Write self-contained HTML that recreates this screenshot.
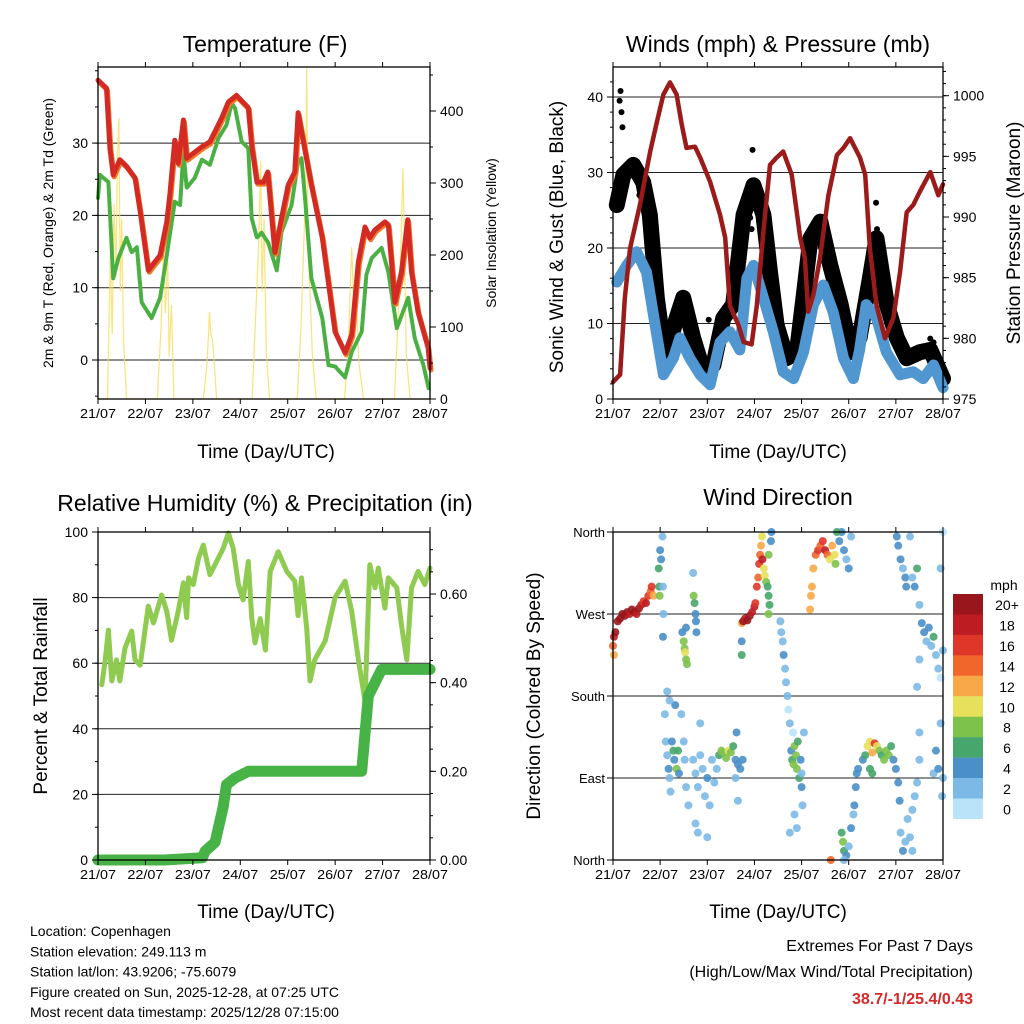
<!DOCTYPE html>
<html><head><meta charset="utf-8"><style>
html,body{margin:0;padding:0;background:#fff;}
svg{display:block;font-family:"Liberation Sans",Arial,sans-serif;}
</style></head><body>
<svg id="chart" width="1024" height="1024" viewBox="0 0 1024 1024" xmlns="http://www.w3.org/2000/svg">
<g id="layer"></g>
</svg>
<script>
// ---------- DATA ----------
const dayLabels = ["21/07","22/07","23/07","24/07","25/07","26/07","27/07","28/07"];
const tempT = [0,0.18,0.25,0.32,0.46,0.60,0.78,0.89,1.06,1.31,1.45,1.52,1.62,1.69,1.80,1.87,2.19,2.36,2.61,2.75,2.92,3.17,3.24,3.35,3.49,3.58,3.66,3.73,3.87,4.01,4.15,4.22,4.33,4.50,4.73,5.00,5.21,5.35,5.49,5.63,5.73,5.84,6.05,6.12,6.26,6.40,6.53,6.61,6.75,6.96,7.0];
const tempV = [38.7,37.6,29.3,25.6,27.7,26.8,25.2,20.5,12.4,14.5,19.1,23.2,30.4,27.2,33.2,27.9,29.5,30.2,33.5,35.7,36.6,34.9,29.7,24.6,24.6,26,20,14.9,19.6,24.2,26,34.2,30.2,24.2,16.9,3.9,1,3.5,13.6,18.4,16.9,18,19.1,18.7,8,12.2,19.4,12.2,6.6,1.7,-1.1];
const dewT = [0,0.04,0.22,0.25,0.32,0.43,0.60,0.71,0.82,0.92,1.13,1.31,1.45,1.62,1.73,1.80,1.87,2.04,2.19,2.36,2.54,2.71,2.82,2.89,3.03,3.17,3.24,3.35,3.45,3.59,3.77,3.87,4.08,4.22,4.29,4.36,4.50,4.73,4.86,5.00,5.21,5.35,5.56,5.66,5.77,5.98,6.12,6.30,6.54,6.68,6.86,6.97];
const dewV = [22.4,25.6,24.6,20.5,11.3,14.1,16.9,14.9,15.6,8,5.8,8.6,14.5,21.9,21.4,28.8,23.8,25.2,27.7,27,30.7,32.5,35.5,34.8,30.2,29.3,19.6,16.9,17.6,16.2,12.4,17.7,21.4,27.4,27.9,22.8,11.3,5.8,-0.7,-0.9,-2.4,1.1,3.9,11.8,14.1,15.5,12.2,4.4,8.6,3,-0.7,-3.9];
const solarT = [0,0.2,0.26,0.3,0.34,0.38,0.41,0.44,0.47,0.5,0.54,0.6,1.25,1.33,1.38,1.42,1.47,1.5,1.55,1.6,2.22,2.3,2.35,2.38,2.42,2.5,3.25,3.32,3.38,3.43,3.46,3.5,3.55,3.62,4.2,4.28,4.33,4.38,4.4,4.43,4.47,4.52,4.6,5.2,5.28,5.35,5.4,5.45,5.5,5.6,6.25,6.32,6.38,6.43,6.47,6.5,6.58,7];
const solarV = [0,0,200,90,270,170,340,390,150,250,80,0,0,100,210,120,200,60,130,0,0,50,120,90,80,0,0,110,200,330,150,250,60,0,0,100,200,300,460,200,150,60,0,0,80,210,120,140,50,0,0,100,200,320,180,60,0,0];

const windT = [0.08,0.29,0.50,0.71,0.86,1.07,1.28,1.42,1.63,1.85,2.06,2.27,2.48,2.69,2.84,2.98,3.19,3.40,3.61,3.83,4.04,4.25,4.46,4.67,4.89,5.10,5.23,5.37,5.59,5.80,6.09,6.37,6.58,6.80,7.0];
const windV = [15.5,17.7,19.5,16.8,11.1,3.2,5.4,8.1,5.4,3.2,1.9,7.5,8.9,6.5,16,17.7,13.4,8.9,3.6,2.7,6.2,12.5,15.1,11.5,5.4,2.7,6.5,12.5,10.7,6.2,3.2,3.6,2.7,4.5,1.5];
const gustT = [0.08,0.22,0.43,0.64,0.78,0.93,1.10,1.35,1.49,1.70,1.92,2.13,2.34,2.55,2.77,2.98,3.19,3.33,3.47,3.68,3.90,4.04,4.19,4.40,4.61,4.83,5.04,5.23,5.45,5.59,5.81,6.02,6.23,6.51,6.73,7.0];
const gustV = [25.7,29.7,31,28.7,24.4,13.4,5.4,10.7,13.4,8.1,3.6,4.5,10.7,12.5,24.4,28.3,24.4,16.8,9.8,5.4,6.2,13.4,21.3,23.5,17.7,12.5,6.2,8.1,16,21.3,12.5,8.1,5.4,6.2,6.5,2.7];
const gustOutT = [0.14,0.16,0.18,0.20,0.56,2.03,2.96,2.91,2.94,5.58,5.60,6.73,6.80];
const gustOutV = [39.5,40.8,38,36,27,10.5,33,24,22.5,26,22.5,8,7.5];
const presT = [0,0.15,0.25,0.36,0.57,0.79,0.93,1.07,1.21,1.35,1.46,1.56,1.74,1.85,2.06,2.27,2.38,2.48,2.66,2.77,2.94,3.05,3.19,3.33,3.47,3.61,3.79,3.97,4.07,4.14,4.25,4.39,4.57,4.75,4.89,5.03,5.24,5.35,5.45,5.59,5.77,5.95,6.09,6.23,6.37,6.51,6.73,6.90,7.0];
const presV = [976.4,977,983.3,987.4,991,995.4,997.8,1000.1,1001.1,1000.1,997.6,995.7,995.8,994.9,992.9,990.2,988.3,982.7,981.1,979.7,979.5,982.7,988.8,994.3,994.9,995.4,993.5,988.3,986.6,982.2,983.6,986.6,991.8,995.1,995.7,996.5,994.9,993.5,987.4,982.7,980,981.7,985.5,990.4,991,992.1,993.7,991.8,992.7];

const rhT = [0.08,0.15,0.22,0.29,0.39,0.46,0.57,0.71,0.78,0.89,1.06,1.17,1.34,1.45,1.55,1.69,1.80,1.87,1.91,2.01,2.12,2.22,2.36,2.50,2.64,2.75,2.85,2.96,3.06,3.17,3.24,3.31,3.42,3.53,3.63,3.80,3.98,4.15,4.22,4.29,4.40,4.47,4.57,4.79,5.00,5.21,5.35,5.49,5.63,5.73,5.84,5.91,6.05,6.12,6.30,6.40,6.51,6.61,6.75,6.89,7.0];
const rhV = [53.4,60.7,70.1,54.6,61,54.6,64.6,69.8,61,59.4,77.4,72.3,80.8,75.8,67,75.8,84.5,73.9,86,84,92,96,87,91,95,99.7,95,84,79.3,91,73.9,66.2,73.6,64,88,94,88,85,74.5,86,70.7,54.6,61,66.8,80,85,75.8,61,48.4,90,83,89,76.8,86,83,71.6,61,83,88,84,89];
const rainT = [0,1.4,2.2,2.26,2.47,2.64,2.71,2.89,3.17,5.56,5.70,5.91,5.98,7.0];
const rainV = [0,0,0.005,0.02,0.04,0.12,0.17,0.185,0.20,0.20,0.37,0.415,0.43,0.43];

const dirT = [0.0,0.02,0.05,0.1,0.15,0.2,0.25,0.3,0.35,0.4,0.45,0.5,0.55,0.6,0.65,0.7,0.75,0.8,0.82,0.86,0.02,
 0.97,0.98,0.99,1.0,1.02,1.05,1.06,1.07,1.06,
 1.7,1.71,1.73,1.75,1.76,1.77,1.47,1.5,1.52,1.53,1.55,1.57,1.55,
 2.73,2.76,2.8,2.85,2.9,2.95,3.0,3.02,3.05,3.08,3.1,3.12,3.14,3.16,3.17,2.73,2.73,3.2,3.22,3.25,3.28,3.3,3.32,3.3,3.3,3.35,3.36,
 3.55,3.57,3.6,3.62,3.65,3.67,3.7,3.72,3.75,3.82,
 4.18,4.2,4.22,4.25,4.3,4.35,4.4,4.45,4.5,4.55,4.6,4.65,4.7,4.72,4.8,4.85,4.9,4.95,5.0,5.05,4.75,
 6.02,6.05,6.1,6.15,6.2,6.22,6.3,6.35,6.4,6.45,6.5,6.55,6.6,6.65,6.7,6.75,6.8,6.85,6.9,6.95,7.0,6.5,6.45,6.95,7.0,
 1.1,1.12,1.15,1.18,1.2,1.22,1.25,1.28,1.3,1.32,1.35,1.38,1.4,1.45,1.5,1.52,1.55,1.6,1.2,1.15,
 1.7,1.75,1.8,1.85,1.9,1.95,2.0,2.05,2.1,2.15,2.2,1.8,1.75,1.85,2.0,
 2.25,2.3,2.35,2.4,2.45,2.5,2.55,2.6,2.65,2.7,2.75,2.62,2.6,2.65,
 3.78,3.8,3.83,3.85,3.88,3.9,3.92,3.95,3.98,4.0,4.02,4.05,3.85,3.9,3.75,4.0,
 4.85,4.88,4.9,4.95,5.0,5.05,5.1,5.12,5.15,5.17,5.2,4.9,4.62,
 5.3,5.35,5.4,5.45,5.5,5.55,5.6,5.65,5.7,5.75,5.8,5.85,5.9,5.95,6.0,6.05,6.08,5.45,5.5,
 6.1,6.15,6.2,6.25,6.3,6.35,6.4,6.45,6.5,6.5,6.35,
 6.8,6.85,6.9,6.95,6.98,7.0];
const dirDeg = [235,245,250,262,265,270,268,272,270,275,272,270,276,280,284,282,290,295,300,290,225,
 320,300,290,340,330,355,300,270,245,
 315,290,282,270,262,250,250,240,232,228,220,215,255,
 260,262,265,263,268,272,278,282,300,310,325,335,345,355,330,240,225,320,312,305,300,290,280,270,335,350,360,
 262,250,240,225,210,195,180,165,150,140,
 275,290,300,320,335,340,345,350,340,335,330,345,335,325,350,360,340,330,320,355,360,
 355,345,330,320,310,300,355,310,300,320,280,260,250,240,255,235,245,225,210,200,230,220,190,320,360,
 160,130,115,100,90,75,130,120,110,170,100,120,95,160,130,110,80,60,175,185,
 110,95,80,115,100,70,90,60,110,85,100,30,40,150,25,
 115,120,118,112,120,118,125,110,105,100,110,140,90,65,
 120,110,105,125,115,100,130,90,110,80,60,140,50,35,30,95,
 30,20,10,5,15,35,50,60,80,95,100,0,0,
 110,115,125,130,118,128,125,120,115,110,120,115,125,110,100,85,65,100,95,
 30,10,20,45,25,55,70,85,110,140,10,
 95,120,100,150,70,90];
const dirSpd = [14,18,20,20,20,20,20,20,18,20,20,18,20,18,16,18,16,14,16,12,12,
 6,6,8,4,4,2,2,2,4,
 2,8,6,4,4,4,4,8,8,10,8,8,4,
 12,20,18,20,20,18,18,16,16,14,16,14,12,10,18,4,6,10,10,8,6,6,6,8,8,4,4,
 2,2,2,4,2,2,2,0,2,0,
 12,12,12,12,14,16,14,16,18,14,10,12,10,8,4,4,4,2,4,2,6,
 4,4,4,2,4,4,2,2,4,6,2,4,4,2,4,2,6,2,2,0,2,2,2,2,0,
 2,2,2,4,2,2,4,6,4,4,8,6,4,2,2,2,2,2,2,2,
 2,2,2,2,2,2,4,2,2,2,2,2,2,2,2,
 6,8,8,8,10,8,6,4,4,4,4,4,2,2,
 4,6,8,8,8,8,6,6,4,4,2,2,2,2,2,2,
 6,8,6,4,2,4,2,4,4,4,4,2,14,
 4,6,10,10,12,16,10,8,6,8,8,8,6,4,4,4,4,6,6,
 2,4,2,2,2,2,2,2,2,2,2,
 2,4,4,2,2,2];
const speedLabels = ["20+","18","16","14","12","10","8","6","4","2","0"];
const speedColors = ["#98161c","#bc1c22","#de3629","#f0662b","#f8a848","#e6e05a","#7dc24b","#47a66b","#4a8fc8","#7cb9e6","#b9e3f8"];

// ---------- HELPERS ----------
const NS="http://www.w3.org/2000/svg";
const root=document.getElementById('layer');
function mk(tag,attrs,parent){const e=document.createElementNS(NS,tag);for(const k in attrs)e.setAttribute(k,attrs[k]);(parent||root).appendChild(e);return e;}
function txt(s,x,y,size,anchor,parent,extra){const e=mk('text',Object.assign({x:x,y:y,'font-size':size,'text-anchor':anchor||'middle',fill:'#000'},extra||{}),parent);e.textContent=s;return e;}
function lin(a0,a1,p0,p1){return v=>p0+(v-a0)*(p1-p0)/(a1-a0);}
function poly(T,V,xs,ys,parent,style){const pts=T.map((t,i)=>xs(t).toFixed(1)+','+ys(V[i]).toFixed(1)).join(' ');return mk('polyline',Object.assign({points:pts,fill:'none','stroke-linejoin':'round','stroke-linecap':'round'},style),parent);}

function frame(g,L,T,R,B,xs){
  // x ticks
  dayLabels.forEach((d,i)=>{const x=xs(i);
    const tk=mk('line',{x1:x,x2:x,y1:B,y2:B+5,stroke:'#000','stroke-width':1},g);
    
    
    mk('line',{x1:x,x2:x,y1:T,y2:T-5,stroke:'#000','stroke-width':1},g);
    const lb=txt(d,x,B+19,13,'middle',g,{'textLength':36,'lengthAdjust':'spacingAndGlyphs'});
    
    
  });
}
function border(g,L,T,R,B){const r=mk('rect',{x:L,y:T,width:R-L,height:B-T,fill:'none',stroke:'#000','stroke-width':1.3},g);}
function yTicks(g,ys,vals,fmt,side,X,minorVals){
  const dir=side==='left'?-1:1;
  (minorVals||[]).forEach(v=>mk('line',{x1:X,x2:X+dir*3,y1:ys(v),y2:ys(v),stroke:'#000','stroke-width':1},g));
  vals.forEach(v=>{const y=ys(v);mk('line',{x1:X,x2:X+dir*6,y1:y,y2:y,stroke:'#000','stroke-width':1},g);
    const lb=txt(fmt(v),X+dir*10,y+5,14,side==='left'?'end':'start',g);
    
    });
}
function grid(g,ys,vals,L,R){vals.forEach(v=>mk('line',{x1:L,x2:R,y1:ys(v),y2:ys(v),stroke:'#222','stroke-width':1},g));}
function range(a,b,s){const r=[];for(let v=a;v<=b+1e-9;v+=s)r.push(+v.toFixed(4));return r;}

// ---------- PANEL 1: TEMPERATURE ----------
(function(){
  const L=98,T=67,R=430,B=399;
  const g=mk('g',{});
  const xs=lin(0,7,L,R), ys=lin(0,30,360,143.1), ysR=lin(0,400,399,111);
  grid(g,ys,[0,10,20,30],L,R);
  const sol=poly(solarT,solarV,xs,ysR,g,{stroke:'#f7dc5a','stroke-width':1.2,opacity:0.8});
  
  const dew=poly(dewT,dewV,xs,ys,g,{stroke:'#4bb043','stroke-width':4,'stroke-dasharray':'3 1.5'});
  
  const t9=poly(tempT,tempV,xs,ys,g,{stroke:'#f07a2a','stroke-width':5,transform:'translate(1,2)'});
  
  const t2=poly(tempT,tempV,xs,ys,g,{stroke:'#d42a24','stroke-width':5});
  
  border(g,L,T,R,B);
  frame(g,L,T,R,B,xs);
  yTicks(g,ys,[0,10,20,30],v=>v,'left',L,range(-5,40,5));
  yTicks(g,ysR,[0,100,200,300,400],v=>v,'right',R,range(0,450,50));
  const t=txt('Temperature (F)',265,52,23,'middle',g);
  const xt=txt('Time (Day/UTC)',266,458,19,'middle',g);
  const yl=txt('2m & 9m T (Red, Orange) & 2m Td (Green)',0,0,14,'middle',g,{transform:'translate(53,233) rotate(-90)'});
  const yr=txt('Solar Insolation (Yellow)',0,0,14,'middle',g,{transform:'translate(496,233) rotate(-90)'});
})();

// ---------- PANEL 2: WINDS ----------
(function(){
  const L=613,T=67,R=943,B=399;
  const g=mk('g',{});
  const xs=lin(0,7,L,R), ys=lin(0,40,399,97), ysR=lin(975,1000,399,95.7);
  grid(g,ys,[10,20,30,40],L,R);
  const gu=poly(gustT,gustV,xs,ys,g,{stroke:'#000','stroke-width':16});
  
  gustOutT.forEach((t,i)=>{const c=mk('circle',{cx:xs(t),cy:ys(gustOutV[i]),r:3,fill:'#000'},g);
    
    });
  const wi=poly(windT,windV,xs,ys,g,{stroke:'#5096d0','stroke-width':11});
  
  const pr=poly(presT,presV,xs,ysR,g,{stroke:'#9b1a1a','stroke-width':4.5});
  
  border(g,L,T,R,B);
  frame(g,L,T,R,B,xs);
  yTicks(g,ys,[0,10,20,30,40],v=>v,'left',L,range(0,42,2));
  yTicks(g,ysR,[975,980,985,990,995,1000],v=>v,'right',R,range(975,1002,1));
  const t=txt('Winds (mph) & Pressure (mb)',778,52,23,'middle',g);
  const xt=txt('Time (Day/UTC)',778,458,19,'middle',g);
  const yl=txt('Sonic Wind & Gust (Blue, Black)',0,0,19,'middle',g,{transform:'translate(563,237) rotate(-90)'});
  const yr=txt('Station Pressure (Maroon)',0,0,19,'middle',g,{transform:'translate(1020,233) rotate(-90)'});
})();

// ---------- PANEL 3: RH & PRECIP ----------
(function(){
  const L=98,T=532,R=430,B=860;
  const g=mk('g',{});
  const xs=lin(0,7,L,R), ys=lin(0,100,860,532), ysR=lin(0,0.6,860,594);
  grid(g,ys,[20,40,60,80],L,R);
  const rh=poly(rhT,rhV,xs,ys,g,{stroke:'#8fcb50','stroke-width':5});
  
  const rn=poly(rainT,rainV,xs,ysR,g,{stroke:'#47b347','stroke-width':11});
  
  border(g,L,T,R,B);
  frame(g,L,T,R,B,xs);
  yTicks(g,ys,[0,20,40,60,80,100],v=>v,'left',L,range(0,100,10));
  yTicks(g,ysR,[0,0.2,0.4,0.6],v=>v.toFixed(2),'right',R,range(0,0.72,0.05));
  const t=txt('Relative Humidity (%) & Precipitation (in)',265,511,23,'middle',g);
  const xt=txt('Time (Day/UTC)',266,918,19,'middle',g);
  const yl=txt('Percent & Total Rainfall',0,0,19,'middle',g,{transform:'translate(47,696) rotate(-90)'});
})();

// ---------- PANEL 4: WIND DIRECTION ----------
(function(){
  const L=613,T=532,R=943,B=860;
  const g=mk('g',{});
  const xs=lin(0,7,L,R), ys=lin(0,360,860,532);
  grid(g,ys,[90,180,270],L,R);
  dirT.forEach((t,i)=>{
    const s=dirSpd[i]; const bin=s>=20?0:10-Math.floor(s/2);
    const c=mk('circle',{cx:xs(t),cy:ys(dirDeg[i]),r:4,fill:speedColors[Math.max(0,Math.min(10,bin))],opacity:0.9},g);
    
    
  });
  border(g,L,T,R,B);
  frame(g,L,T,R,B,xs);
  const dl=["North","East","South","West","North"];
  [0,90,180,270,360].forEach((v,i)=>{const y=ys(v);mk('line',{x1:L,x2:L-6,y1:y,y2:y,stroke:'#000'},g);
    const lb=txt(dl[i],L-8,y+5,13,'end',g);
    
    });
  const t=txt('Wind Direction',778,505,23,'middle',g);
  const xt=txt('Time (Day/UTC)',778,918,19,'middle',g);
  const yl=txt('Direction (Colored By Speed)',0,0,19,'middle',g,{transform:'translate(540,696) rotate(-90)'});
  // colorbar
  const cb=mk('g',{},g);
  const u=txt('mph',1004,590,14,'middle',cb);
  speedLabels.forEach((s,i)=>{const y=594+i*20.45;
    const r=mk('rect',{x:953,y:y,width:30,height:20.6,fill:speedColors[i]},cb);
    
    
    const lb=txt(s,1007,y+16,14,'middle',cb);
    
    });
})();

// ---------- FOOTER TEXT ----------
(function(){
  const g=mk('g',{});
  const lines=["Location: Copenhagen","Station elevation: 249.113 m","Station lat/lon: 43.9206; -75.6079","Figure created on Sun, 2025-12-28, at 07:25 UTC","Most recent data timestamp: 2025/12/28 07:15:00"];
  lines.forEach((s,i)=>{const e=txt(s,30,936+i*20.3,14,'start',g);
    
    });
  const g2=mk('g',{});
  txt('Extremes For Past 7 Days',973,951,16,'end',g2);
  txt('(High/Low/Max Wind/Total Precipitation)',973,977,16,'end',g2);
  txt('38.7/-1/25.4/0.43',973,1004,16,'end',g2,{fill:'#d42a2a','font-weight':'bold'});
})();
</script>
</body></html>
